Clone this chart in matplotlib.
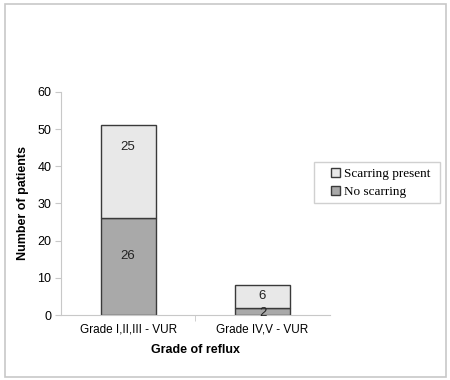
import numpy as np
import matplotlib.pyplot as plt
from matplotlib.patches import Rectangle

# data
categories = ["Grade I,II,III - VUR", "Grade IV,V - VUR"]
no_scarring = [26, 2]
scarring_present = [25, 6]

# label nudges in points (the original labels are not quite centred)
nudge_no = [8, -1]
nudge_yes = [18, 0]

plt.rcParams["font.family"] = ["Liberation Sans", "DejaVu Sans"]

fig = plt.figure(figsize=(4.5, 3.8), dpi=100)
ax = fig.add_axes([0.1356, 0.171, 0.597, 0.587])

# outer frame
fig.patches.append(Rectangle((0.011, 0.008), 0.98, 0.982, transform=fig.transFigure,
                             fill=False, edgecolor="#c8c8c8", linewidth=1.2))

x = np.arange(len(categories))
w = 0.41
edge = "#3a3a3a"
b1 = ax.bar(x, no_scarring, w, color="#a9a9a9", edgecolor=edge, linewidth=1.0,
            label="No scarring")
b2 = ax.bar(x, scarring_present, w, bottom=no_scarring, color="#e8e8e8",
            edgecolor=edge, linewidth=1.0, label="Scarring present")

for i in range(len(categories)):
    ax.annotate(str(no_scarring[i]), (x[i], no_scarring[i] / 2),
                xytext=(0, nudge_no[i]), textcoords="offset points",
                ha="center", va="center", fontsize=9.5, color="#222222")
    ax.annotate(str(scarring_present[i]), (x[i], no_scarring[i] + scarring_present[i] / 2),
                xytext=(0, nudge_yes[i]), textcoords="offset points",
                ha="center", va="center", fontsize=9.5, color="#222222")

ax.set_xlim(-0.5, 1.5)
ax.set_ylim(0, 60)
ax.set_yticks(range(0, 61, 10))
ax.set_xticks(x)
ax.set_xticklabels(categories, fontsize=8.5)
ax.set_xticks([0.5], minor=True)
ax.tick_params(axis="x", which="major", length=0, pad=6)
ax.tick_params(axis="x", which="minor", length=4, color="#c8c8c8")
ax.tick_params(axis="y", labelsize=9, length=4, color="#c8c8c8", pad=3)

for s in ["top", "right"]:
    ax.spines[s].set_visible(False)
for s in ["left", "bottom"]:
    ax.spines[s].set_color("#c8c8c8")

ax.set_xlabel("Grade of reflux", fontsize=9, fontweight="bold", labelpad=6)
ax.set_ylabel("Number of patients", fontsize=9, fontweight="bold", labelpad=6)

# legend box drawn separately (wider side padding than legend allows)
fig.patches.append(Rectangle((314 / 450, 1 - 203 / 380), 126 / 450, 41 / 380,
                             transform=fig.transFigure, facecolor="white",
                             edgecolor="#d0d0d0", linewidth=1.0))
leg = fig.legend(handles=[b2, b1], labels=["Scarring present", "No scarring"],
                 loc="upper left", bbox_to_anchor=(331 / 450, 1 - 168 / 380),
                 prop={"family": ["Liberation Serif"], "size": 9.5},
                 frameon=False, handlelength=0.7, handleheight=0.7,
                 handletextpad=0.25, borderpad=0, borderaxespad=0,
                 labelspacing=0.45)

plt.savefig("out.png", dpi=100)
